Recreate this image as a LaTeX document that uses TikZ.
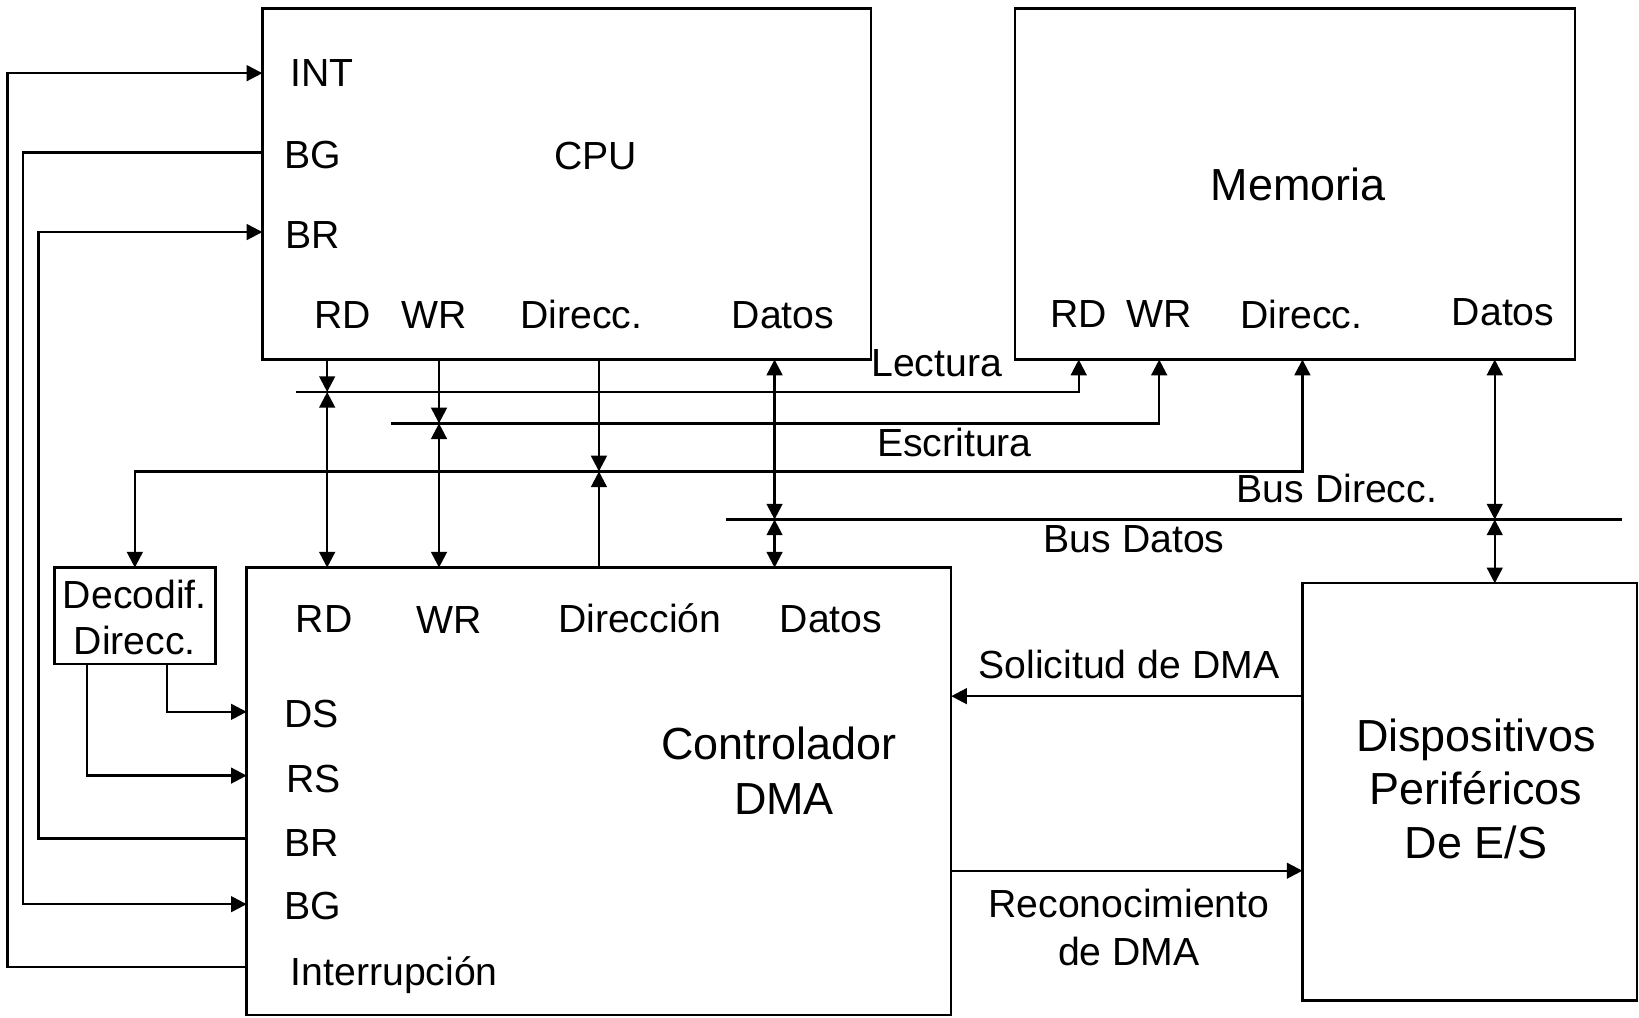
\documentclass[tikz,border=0pt]{standalone}
\usepackage{fontspec}
\setmainfont{Liberation Sans}
\usetikzlibrary{arrows.meta}
\newcommand\smallfnt{\fontsize{37.5}{44}\selectfont}
\newcommand\bigfnt{\fontsize{43}{52}\selectfont}
\begin{document}
\begin{tikzpicture}[x=1pt,y=-1pt,line width=2.3pt,
  >={Triangle[length=15pt,width=15pt]},
  box/.style={draw,rectangle,inner sep=0pt,outer sep=0pt},
  lbl/.style={font=\smallfnt,inner sep=0pt,anchor=base},
  lblw/.style={font=\smallfnt,inner sep=0pt,anchor=base west},
  big/.style={font=\bigfnt,inner sep=0pt,anchor=base}]
\useasboundingbox[fill=white] (0,0) rectangle (1568,973);
% boxes
\node[box,minimum width=582pt,minimum height=336pt] (cpu) at (542,176) {};
\node[box,minimum width=536pt,minimum height=336pt] (mem) at (1239,176) {};
\node[box,minimum width=674pt,minimum height=428pt] (dma) at (573,757) {};
\node[box,minimum width=320pt,minimum height=399pt] (dev) at (1406,757.5) {};
\node[box,minimum width=154pt,minimum height=92pt] (dec) at (129,589) {};
% reference coordinates
\coordinate (yint) at (0,70);
\coordinate (ybgc) at (0,146);
\coordinate (ybrc) at (0,222);
\coordinate (ylec) at (0,375);
\coordinate (yesc) at (0,405);
\coordinate (ydir) at (0,451);
\coordinate (ydat) at (0,497);
\coordinate (yds) at (0,681);
\coordinate (yrs) at (0,742);
\coordinate (ybrd) at (0,802);
\coordinate (ybgd) at (0,865);
\coordinate (yirq) at (0,925);
\coordinate (ysol) at (0,666);
\coordinate (yrec) at (0,833);
\coordinate (xint) at (7,0);
\coordinate (xbg) at (22,0);
\coordinate (xbr) at (37,0);
\coordinate (xrs) at (83,0);
\coordinate (xds) at (160,0);
\coordinate (xrd) at (313,0);
\coordinate (xwr) at (420,0);
\coordinate (xad) at (573,0);
\coordinate (xda) at (741,0);
\coordinate (xmrd) at (1032,0);
\coordinate (xmwr) at (1109,0);
\coordinate (xmad) at (1246,0);
\coordinate (xmda) at (1430,0);
% bus line endpoints
\coordinate (lecL) at (283,375);
\coordinate (escL) at (374,405);
\coordinate (datL) at (695,497);
\coordinate (datR) at (1552,497);
% buses
\draw[->] (lecL) -- (xmrd |- ylec) -- (mem.south -| xmrd);
\draw[->] (escL) -- (xmwr |- yesc) -- (mem.south -| xmwr);
\draw[<->] (mem.south -| xmad) -- (xmad |- ydir) -- (dec.north |- ydir) -- (dec.north);
\draw (datL) -- (datR);
% CPU to buses
\draw[->] (cpu.south -| xrd) -- (xrd |- ylec);
\draw[<->] (xrd |- ylec) -- (dma.north -| xrd);
\draw[->] (cpu.south -| xwr) -- (xwr |- yesc);
\draw[<->] (xwr |- yesc) -- (dma.north -| xwr);
\draw[->] (cpu.south -| xad) -- (xad |- ydir);
\draw[->] (dma.north -| xad) -- (xad |- ydir);
\draw[<->] (cpu.south -| xda) -- (xda |- ydat);
\draw[<->] (xda |- ydat) -- (dma.north -| xda);
\draw[<->] (mem.south -| xmda) -- (xmda |- ydat);
\draw[<->] (xmda |- ydat) -- (dev.north -| xmda);
% left side control lines
\draw[->] (dma.west |- yirq) -- (xint |- yirq) -- (xint |- yint) -- (cpu.west |- yint);
\draw[->] (cpu.west |- ybgc) -- (xbg |- ybgc) -- (xbg |- ybgd) -- (dma.west |- ybgd);
\draw[->] (dma.west |- ybrd) -- (xbr |- ybrd) -- (xbr |- ybrc) -- (cpu.west |- ybrc);
\draw[->] (dec.south -| xds) -- (xds |- yds) -- (dma.west |- yds);
\draw[->] (dec.south -| xrs) -- (xrs |- yrs) -- (dma.west |- yrs);
% DMA <-> devices
\draw[->] (dev.west |- ysol) -- (dma.east |- ysol);
\draw[->] (dma.east |- yrec) -- (dev.west |- yrec);
% CPU labels
\node[lblw] (tint) at (277,83) {INT};
\node[lblw] (tbgc) at (271,161) {BG};
\node[lblw] (tbrc) at (272,238) {BR};
\node[lbl] (tcpu) at (570,162) {CPU};
\node[lbl] (tcrd) at (328,314) {RD};
\node[lbl] (tcwr) at (415,314) {WR};
\node[lbl] (tcad) at (556,314) {Direcc.};
\node[lbl] (tcda) at (749,314) {Datos};
% bus labels
\node[lbl] (tlec) at (896,360) {Lectura};
\node[lbl] (tesc) at (913,437) {Escritura};
\node[lbl] (tbdir) at (1279,481) {Bus Direcc.};
\node[lbl] (tbdat) at (1085,529) {Bus Datos};
% memory labels
\node[big] (tmem) at (1242,192) {Memoria};
\node[lbl] (tmrd) at (1032,313) {RD};
\node[lbl] (tmwr) at (1109,313) {WR};
\node[lbl] (tmad) at (1245,314) {Direcc.};
\node[lbl] (tmda) at (1438,311) {Datos};
% DMA labels
\node[lbl] (tdrd) at (310,605) {RD};
\node[lbl] (tdwr) at (430,606) {WR};
\node[lbl] (tdad) at (612,605) {Dirección};
\node[lbl] (tdda) at (795,605) {Datos};
\node[lblw] (tds) at (271,696) {DS};
\node[lblw] (trs) at (273,758) {RS};
\node[lblw] (tbrd) at (271,819) {BR};
\node[lblw] (tbgd) at (271,880) {BG};
\node[lblw] (tirq) at (277,943) {Interrupción};
\node[big] (tdma1) at (745,727) {Controlador};
\node[big] (tdma2) at (750,779) {DMA};
% devices
\node[big] (tdev1) at (1412,719) {Dispositivos};
\node[big] (tdev2) at (1412,770) {Periféricos};
\node[big] (tdev3) at (1412,821) {De E/S};
% decoder
\node[lbl] (tdec1) at (129,582) {Decodif.};
\node[lbl] (tdec2) at (129,626) {Direcc.};
% side labels
\node[lbl] (tsol) at (1080,649) {Solicitud de DMA};
\node[lbl] (trec1) at (1080,878) {Reconocimiento};
\node[lbl] (trec2) at (1080,924) {de DMA};
\end{tikzpicture}
\end{document}
